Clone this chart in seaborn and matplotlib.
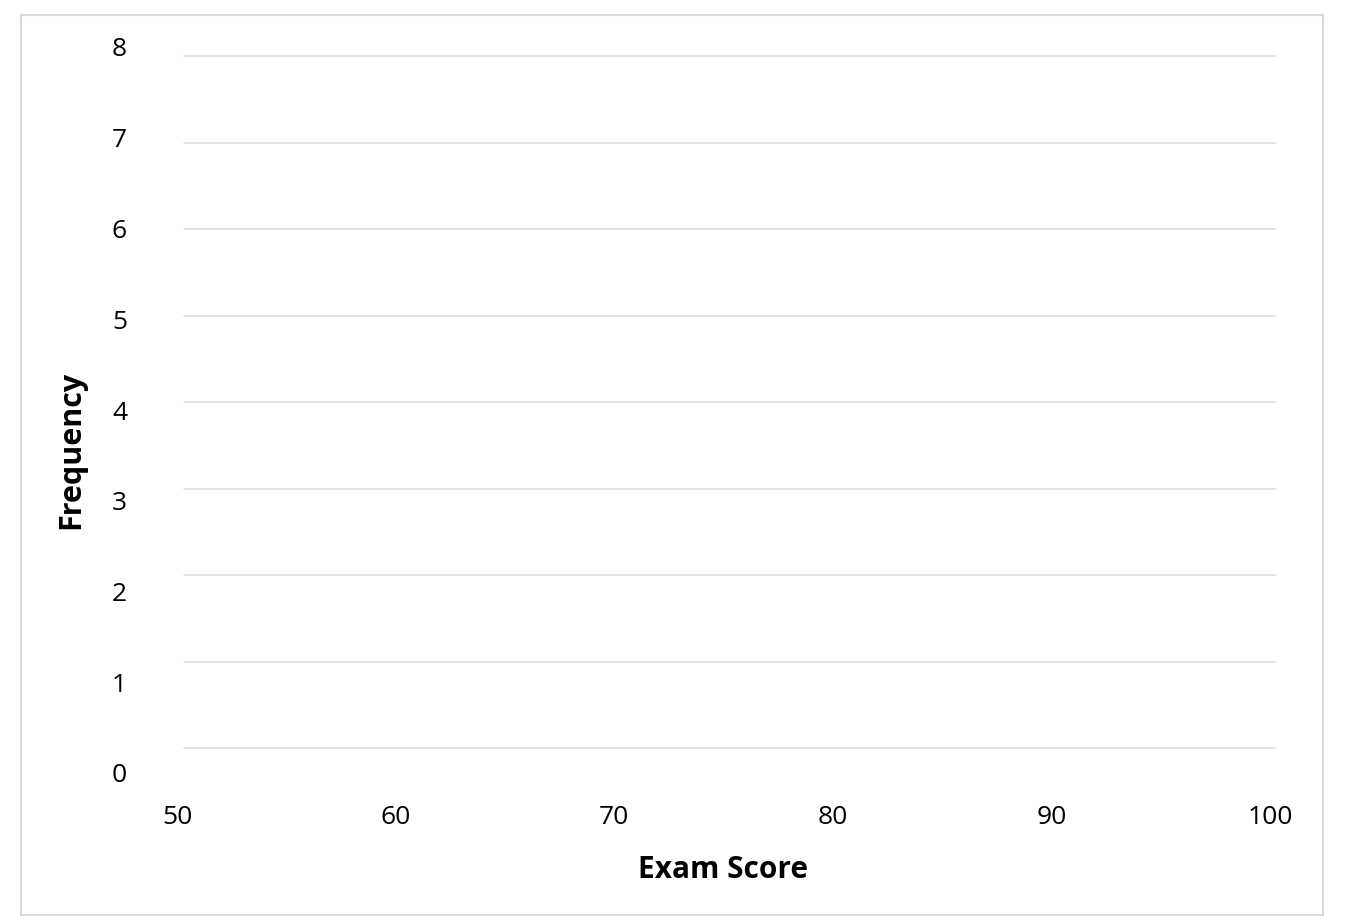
import numpy as np
import seaborn as sns
import matplotlib.pyplot as plt
from matplotlib.patches import Rectangle

# axis setup of the blank histogram template
x_ticks = [50, 60, 70, 80, 90, 100]
y_ticks = [0, 1, 2, 3, 4, 5, 6, 7, 8]
x_label = "Exam Score"
y_label = "Frequency"

sns.set_theme(style="white")
plt.rcParams['font.family'] = ['Open Sans', 'DejaVu Sans']

W, H = 1350, 924
fig = plt.figure(figsize=(W / 100, H / 100), dpi=100)
fig.patch.set_facecolor("white")

def box(x0, y0, x1, y1):
    # pixel box (top-left origin) -> figure fraction rect
    return [x0 / W, 1 - y1 / H, (x1 - x0) / W, (y1 - y0) / H]

# gridlines
ax = fig.add_axes(box(184, 56, 1275, 748))
ax.set_ylim(y_ticks[0], y_ticks[-1])
ax.set_yticks(y_ticks)
ax.set_xticks([])
ax.tick_params(axis="y", length=0, labelleft=False)
ax.grid(axis="y", color="#d9d9d9", linewidth=1.1)
for gl in ax.get_ygridlines():
    gl.set_clip_on(False)
ax.set_facecolor("none")
sns.despine(ax=ax, left=True, bottom=True)

# labels
ax2 = fig.add_axes(box(177, 47, 1270, 773))
ax2.set_facecolor("none")
ax2.set_xlim(x_ticks[0], x_ticks[-1])
ax2.set_ylim(y_ticks[0], y_ticks[-1])
ax2.set_xticks(x_ticks)
ax2.set_yticks(y_ticks)
ax2.tick_params(axis="both", length=0, labelsize=19, colors="black")
ax2.tick_params(axis="y", pad=36)
ax2.tick_params(axis="x", pad=23)
sns.despine(ax=ax2, left=True, bottom=True)
ax2.grid(False)

ax2.set_xlabel(x_label, fontsize=21.5, fontweight="bold", color="black")
ax2.xaxis.set_label_coords(0.5, -0.113)
ax2.set_ylabel(y_label, fontsize=22, fontweight="bold", color="black")
ax2.yaxis.set_label_coords(-0.083, 0.445)

# outer chart border
fig.patches.append(Rectangle((21 / W, 1 - 915 / H), (1323 - 21) / W, (915 - 15) / H,
                             transform=fig.transFigure, fill=False,
                             edgecolor="#d9d9d9", linewidth=1.5))

fig.savefig("out.png", dpi=100)
